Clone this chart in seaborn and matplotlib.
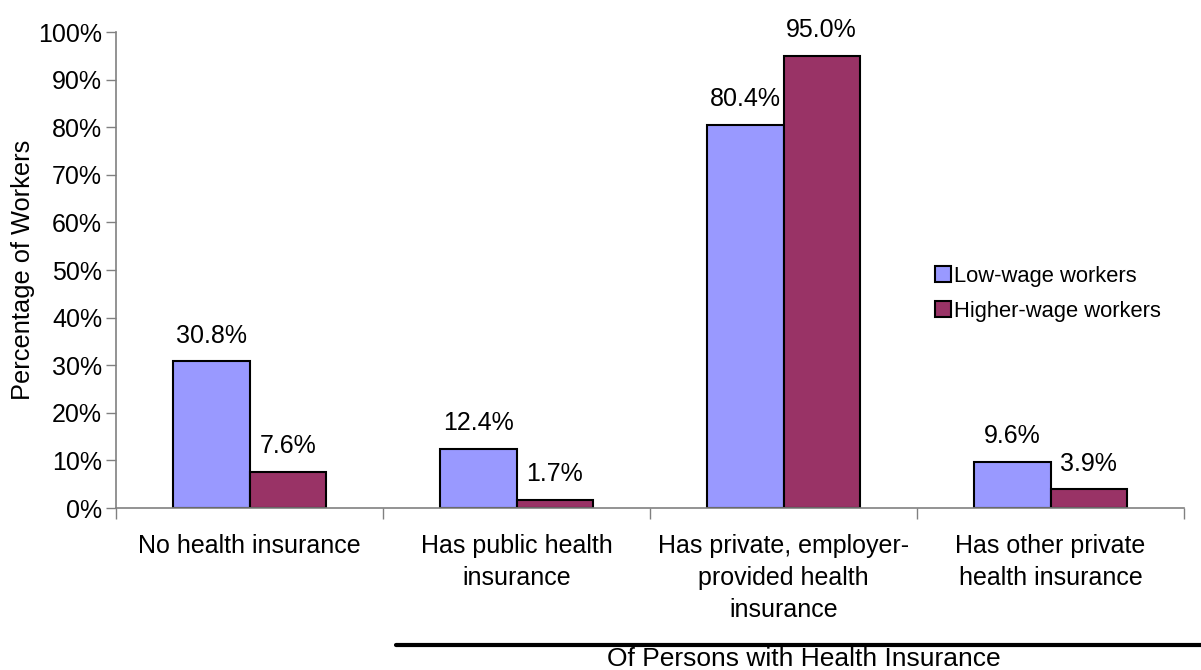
import matplotlib
matplotlib.use("Agg")
import matplotlib.pyplot as plt
from matplotlib.lines import Line2D
from matplotlib.ticker import PercentFormatter, FixedLocator
import seaborn as sns
import pandas as pd

categories = [
    "No health insurance",
    "Has public health\ninsurance",
    "Has private, employer-\nprovided health\ninsurance",
    "Has other private\nhealth insurance",
]
series_names = ["Low-wage workers", "Higher-wage workers"]
low_wage = [30.8, 12.4, 80.4, 9.6]
higher_wage = [7.6, 1.7, 95.0, 3.9]
y_ticks = [0, 10, 20, 30, 40, 50, 60, 70, 80, 90, 100]
colors = ["#9999FF", "#993366"]

df = pd.DataFrame({
    "category": categories * 2,
    "group": [series_names[0]] * len(categories) + [series_names[1]] * len(categories),
    "value": low_wage + higher_wage,
})

sns.set_theme(style="white")
plt.rcParams["font.family"] = ["Liberation Sans", "DejaVu Sans"]
plt.rcParams["text.color"] = "black"
plt.rcParams["axes.labelcolor"] = "black"

fig = plt.figure(figsize=(12.01, 6.70), dpi=100)
ax = fig.add_axes([116 / 1201, 1 - 508 / 670, (1184 - 116) / 1201, (508 - 32) / 670])

sns.barplot(data=df, x="category", y="value", hue="group", order=categories,
            hue_order=series_names, palette=colors, width=0.573, gap=0,
            edgecolor="black", linewidth=1.5, saturation=1, ax=ax, legend=True)

# value labels above each bar
for container in ax.containers:
    labels = [f"{v:.1f}%" for v in container.datavalues]
    ax.bar_label(container, labels=labels, padding=10, fontsize=18, color="black")

ax.set_ylim(0, 100)
ax.set_xlim(-0.5, len(categories) - 0.5)
ax.set_yticks(y_ticks)
ax.yaxis.set_major_formatter(PercentFormatter(decimals=0))
ax.tick_params(axis="y", which="major", direction="out", length=7, width=1,
               color="#808080", labelcolor="black", labelsize=18, pad=3, left=True)

# category labels at centres, tick marks at boundaries
ax.set_xticks(range(len(categories)))
ax.set_xticklabels(categories, fontsize=18, linespacing=1.4, va="top")
ax.tick_params(axis="x", which="major", length=0, pad=19, labelcolor="black")
ax.xaxis.set_minor_locator(FixedLocator([i - 0.5 for i in range(len(categories) + 1)]))
ax.tick_params(axis="x", which="minor", direction="out", length=8, width=1,
               color="#808080", bottom=True)

ax.set_xlabel("")
ax.set_ylabel("Percentage of Workers", fontsize=18.3, labelpad=2)

for side in ["top", "right"]:
    ax.spines[side].set_visible(False)
for side in ["left", "bottom"]:
    ax.spines[side].set_color("#808080")
    ax.spines[side].set_linewidth(1.2)
ax.grid(False)

leg = ax.legend(loc="upper left", bbox_to_anchor=(935 / 1201, 1 - 266 / 670),
                bbox_transform=fig.transFigure, frameon=False, fontsize=15.8,
                handlelength=0.75, handleheight=0.75, handletextpad=0.12,
                labelspacing=0.62, borderpad=0, borderaxespad=0)
for h in leg.legend_handles:
    h.set_edgecolor("black")
    h.set_linewidth(1.5)

# bracket line for the insured categories
fig.add_artist(Line2D([396 / 1201, 1.0], [1 - 645 / 670, 1 - 645 / 670],
                      transform=fig.transFigure, color="black", linewidth=3))
fig.text(804 / 1201, 1 - 659 / 670, "Of Persons with Health Insurance",
         ha="center", va="center", fontsize=19)

fig.savefig("out.png", dpi=100)
